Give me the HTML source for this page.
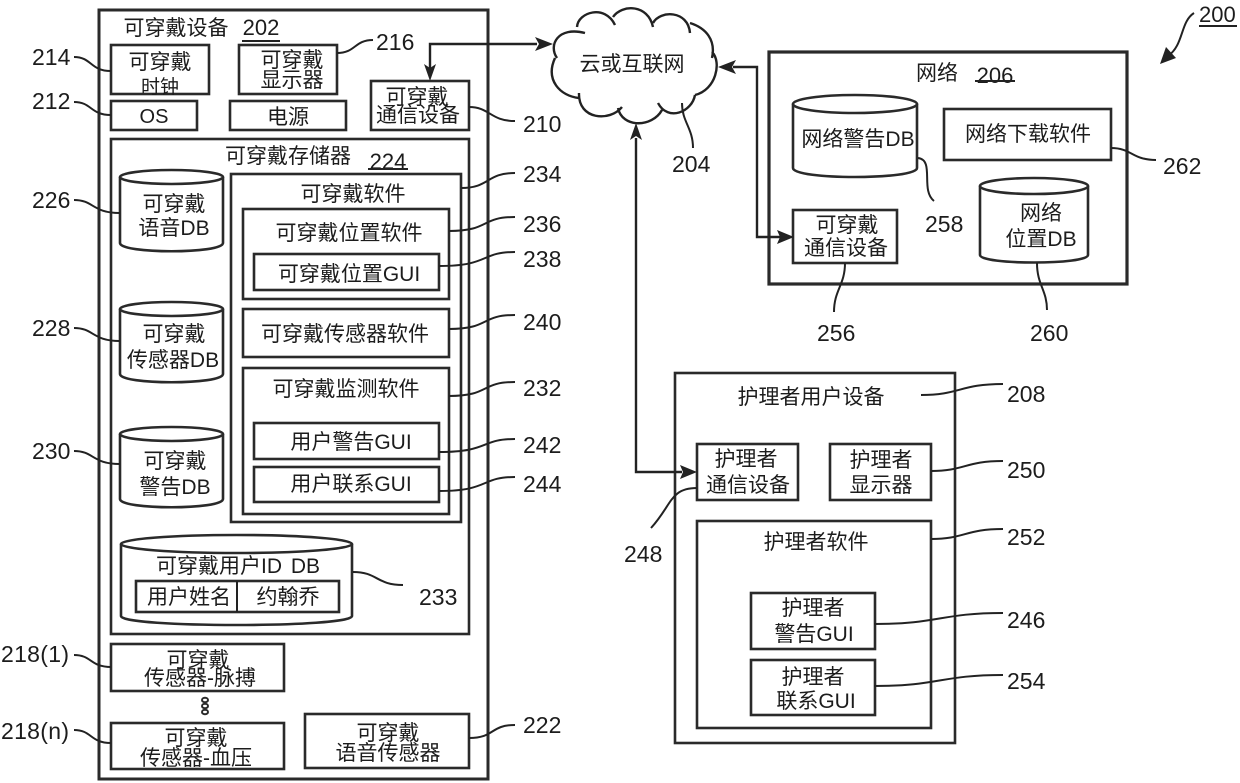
<!DOCTYPE html>
<html><head><meta charset="utf-8"><style>
html,body{margin:0;padding:0;background:#fff}
svg{display:block}
.b{fill:#fff;stroke:#2a2a2a;stroke-width:2.6}
.l{fill:none;stroke:#222;stroke-width:2}
.c{fill:#fff;stroke:#2a2a2a;stroke-width:2.6}
text{font-family:"Liberation Sans","Noto Sans CJK SC",sans-serif;font-size:21px;fill:#1c1c1c;text-anchor:middle}
.n{font-size:23px;text-anchor:start}
</style></head><body>
<svg width="1240" height="783" viewBox="0 0 1240 783" xmlns="http://www.w3.org/2000/svg">
<rect class="b" x="99" y="10" width="389" height="769" style="stroke-width:3"/>
<rect class="b" x="769" y="52" width="358" height="232" style="stroke-width:3.2"/>
<rect class="b" x="675" y="373" width="280" height="370"/>

<!-- cloud -->
<path class="l" style="stroke-width:2.4" d="M557 58C548 45 558 26 585 33M577 27C578 12 605 4 615 25M613 17C622 4 648 4 653 27M653 23C660 10 688 10 690 33M690 23C706 28 716 40 712 58M712 52C722 62 716 90 695 95M695 95C692 112 668 122 658 103M662 110C652 128 622 128 618 108M622 107C610 122 578 120 579 93M579 98C560 96 545 80 555 58"/>

<!-- wearable device -->
<text x="176" y="35">可穿戴设备</text>
<text x="261" y="35" style="font-size:22px">202</text>
<path class="l" d="M242 41H280"/>
<rect class="b" x="111" y="45" width="98" height="49"/>
<text x="160" y="69">可穿戴</text><text x="160" y="93" style="font-size:19px">时钟</text>
<rect class="b" x="239" y="45" width="98" height="49"/>
<text x="292" y="67">可穿戴</text><text x="292" y="87">显示器</text>
<rect class="b" x="111" y="101" width="86" height="29"/>
<text x="154" y="123" style="font-size:20px">OS</text>
<rect class="b" x="230" y="101" width="116" height="29"/>
<text x="288" y="124">电源</text>
<rect class="b" x="371" y="81" width="98" height="49"/>
<text x="417" y="104">可穿戴</text><text x="418" y="122">通信设备</text>

<rect class="b" x="111" y="139" width="358" height="495"/>
<text x="288" y="163">可穿戴存储器</text>
<text x="388" y="169" style="font-size:22px">224</text>
<path class="l" d="M368 169H408"/>

<path class="c" d="M120 177V243C120 254 223 254 223 243V177"/><ellipse class="c" cx="171.5" cy="177" rx="51.5" ry="7"/>
<text x="174" y="211">可穿戴</text><text x="174" y="235">语音DB</text>
<path class="c" d="M120 309V374C120 385 223 385 223 374V309"/><ellipse class="c" cx="171.5" cy="309" rx="51.5" ry="7"/>
<text x="174" y="341">可穿戴</text><text x="173" y="367">传感器DB</text>
<path class="c" d="M120 434V499C120 510 223 510 223 499V434"/><ellipse class="c" cx="171.5" cy="434" rx="51.5" ry="7"/>
<text x="175" y="468">可穿戴</text><text x="175" y="494">警告DB</text>

<rect class="b" x="231" y="174" width="230" height="348"/>
<text x="353" y="201">可穿戴软件</text>
<rect class="b" x="243" y="209" width="206" height="90"/>
<text x="349" y="240">可穿戴位置软件</text>
<rect class="b" x="254" y="254" width="185" height="36"/>
<text x="349" y="281">可穿戴位置GUI</text>
<rect class="b" x="243" y="309" width="206" height="48"/>
<text x="345" y="341">可穿戴传感器软件</text>
<rect class="b" x="243" y="368" width="206" height="146"/>
<text x="346" y="396">可穿戴监测软件</text>
<rect class="b" x="254" y="423" width="185" height="36"/>
<text x="351" y="449">用户警告GUI</text>
<rect class="b" x="254" y="467" width="185" height="35"/>
<text x="351" y="491">用户联系GUI</text>

<path class="c" d="M121 544V616C121 628 352 628 352 616V544"/><ellipse class="c" cx="236.5" cy="544" rx="115.5" ry="9"/>
<text x="238" y="573" style="word-spacing:3px">可穿戴用户ID DB</text>
<rect class="b" x="136" y="581" width="203" height="31"/>
<path class="l" d="M237 581V612"/>
<text x="189" y="604">用户姓名</text><text x="288" y="604">约翰乔</text>

<rect class="b" x="111" y="644" width="173" height="47"/>
<text x="198" y="667">可穿戴</text><text x="200" y="685">传感器-脉搏</text>
<ellipse class="c" cx="205" cy="700" rx="3" ry="2.2" style="stroke-width:2"/>
<ellipse class="c" cx="205" cy="706" rx="3" ry="2.2" style="stroke-width:2"/>
<ellipse class="c" cx="205" cy="712" rx="3" ry="2.2" style="stroke-width:2"/>
<rect class="b" x="111" y="723" width="173" height="46"/>
<text x="196" y="745">可穿戴</text><text x="196" y="765">传感器-血压</text>
<rect class="b" x="305" y="714" width="164" height="54"/>
<text x="388" y="740">可穿戴</text><text x="388" y="760">语音传感器</text>

<text x="632" y="71">云或互联网</text>

<!-- network -->
<text x="937" y="80">网络</text>
<text x="995" y="83" style="font-size:22px">206</text>
<path class="l" d="M975 81H1015"/>
<path class="c" d="M793 104V168C793 180 917 180 917 168V104"/><ellipse class="c" cx="855" cy="104" rx="62" ry="9"/>
<text x="858" y="146">网络警告DB</text>
<rect class="b" x="944" y="109" width="167" height="51"/>
<text x="1028" y="141">网络下载软件</text>
<path class="c" d="M980 186V255C980 265 1088 265 1088 255V186"/><ellipse class="c" cx="1034" cy="186" rx="54" ry="8"/>
<text x="1041" y="220">网络</text><text x="1041" y="246">位置DB</text>
<rect class="b" x="793" y="210" width="104" height="53"/>
<text x="847" y="232">可穿戴</text><text x="846" y="255">通信设备</text>

<!-- caregiver -->
<text x="811" y="404">护理者用户设备</text>
<rect class="b" x="697" y="444" width="101" height="56"/>
<text x="746" y="466">护理者</text><text x="748" y="492">通信设备</text>
<rect class="b" x="830" y="444" width="101" height="56"/>
<text x="881" y="467">护理者</text><text x="881" y="492">显示器</text>
<rect class="b" x="697" y="521" width="234" height="207"/>
<text x="816" y="549">护理者软件</text>
<rect class="b" x="751" y="593" width="124" height="56"/>
<text x="813" y="615">护理者</text><text x="814" y="641">警告GUI</text>
<rect class="b" x="751" y="660" width="124" height="55"/>
<text x="813" y="684">护理者</text><text x="816" y="708">联系GUI</text>

<!-- leaders -->
<path class="l" d="M74 57C92 57 90 71 111 71"/>
<path class="l" d="M74 102C92 102 90 115 111 115"/>
<path class="l" d="M74 200C94 200 92 213 120 213"/>
<path class="l" d="M74 328C94 328 92 341 120 341"/>
<path class="l" d="M74 451C94 451 92 464 120 464"/>
<path class="l" d="M74 655C92 655 90 667 111 667"/>
<path class="l" d="M74 730C92 730 90 743 111 743"/>
<path class="l" d="M337 53C356 53 354 40 373 40"/>
<path class="l" d="M469 107C490 107 490 121 515 121"/>
<path class="l" d="M461 188C490 188 486 173 515 173"/>
<path class="l" d="M449 231C490 231 480 217 515 217"/>
<path class="l" d="M439 266C490 266 480 252 515 252"/>
<path class="l" d="M449 329C490 329 480 315 515 315"/>
<path class="l" d="M449 396C490 396 480 382 515 382"/>
<path class="l" d="M439 452C490 452 480 439 515 439"/>
<path class="l" d="M439 491C490 491 480 477 515 477"/>
<path class="l" d="M469 738C495 738 490 725 515 725"/>
<path class="l" d="M353 572C378 572 376 585 403 585"/>
<path class="l" d="M682 103C682 122 693 128 693 148"/>
<path class="l" d="M918 158C935 160 920 190 934 201"/>
<path class="l" d="M1111 148C1132 148 1132 160 1156 160"/>
<path class="l" d="M845 263C845 285 834 290 834 312"/>
<path class="l" d="M1037 263C1037 285 1047 290 1047 310"/>
<path class="l" d="M921 395C960 395 960 384 1003 384"/>
<path class="l" d="M931 471C965 471 965 461 1003 461"/>
<path class="l" d="M931 539C965 539 965 529 1003 529"/>
<path class="l" d="M874 624C940 624 940 613 1003 613"/>
<path class="l" d="M874 686C940 686 940 675 1003 675"/>
<path class="l" d="M697 488C670 488 672 505 651 528"/>
<path class="l" d="M1194 13C1180 22 1184 45 1168 56"/>
<polygon points="1160,64 1166,47 1176,58" fill="#222"/>

<!-- connectors -->
<path class="l" style="stroke-width:2.4" d="M537 44H430V68"/>
<polygon points="553,44 535,37 539,44 535,51" fill="#222"/>
<polygon points="430,81 424,64 430,68 436,64" fill="#222"/>
<path class="l" style="stroke-width:2.4" d="M733 67H757V237H780"/>
<polygon points="718,67 736,60 732,67 736,74" fill="#222"/>
<polygon points="794,237 777,230 780,237 777,244" fill="#222"/>
<path class="l" style="stroke-width:2.4" d="M636 138V472H682"/>
<polygon points="636,123 630,140 636,136 642,140" fill="#222"/>
<polygon points="697,472 680,465 683,472 680,479" fill="#222"/>

<!-- numbers -->
<text class="n" x="32" y="65">214</text>
<text class="n" x="32" y="109">212</text>
<text class="n" x="32" y="208">226</text>
<text class="n" x="32" y="336">228</text>
<text class="n" x="32" y="459">230</text>
<text class="n" x="1" y="662" textLength="68">218(1)</text>
<text class="n" x="1" y="739" textLength="68">218(n)</text>
<text class="n" x="376" y="50">216</text>
<text class="n" x="523" y="132">210</text>
<text class="n" x="523" y="182">234</text>
<text class="n" x="523" y="232">236</text>
<text class="n" x="523" y="267">238</text>
<text class="n" x="523" y="330">240</text>
<text class="n" x="523" y="396">232</text>
<text class="n" x="523" y="453">242</text>
<text class="n" x="523" y="492">244</text>
<text class="n" x="523" y="733">222</text>
<text class="n" x="419" y="605">233</text>
<text class="n" x="672" y="172">204</text>
<text class="n" x="925" y="232">258</text>
<text class="n" x="1163" y="174">262</text>
<text class="n" x="817" y="341">256</text>
<text class="n" x="1030" y="341">260</text>
<text class="n" x="1199" y="22" style="font-size:22px">200</text>
<path class="l" d="M1199 26H1237"/>
<text class="n" x="1007" y="402">208</text>
<text class="n" x="1007" y="478">250</text>
<text class="n" x="1007" y="545">252</text>
<text class="n" x="1007" y="628">246</text>
<text class="n" x="1007" y="689">254</text>
<text class="n" x="624" y="562">248</text>
</svg>
</body></html>
